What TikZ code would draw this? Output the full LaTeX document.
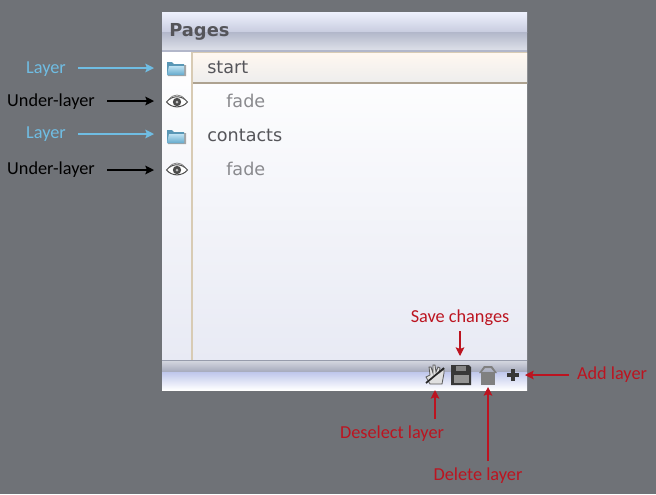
\documentclass[tikz,border=0pt]{standalone}
\usepackage{fontspec}
\setmainfont{Carlito}
\newfontfamily\uifont{DejaVu Sans}
\usetikzlibrary{arrows.meta}
\definecolor{bggray}{HTML}{6F7277}
\definecolor{layerblue}{HTML}{6FBDE3}
\definecolor{annred}{HTML}{BC1420}
\definecolor{tan1}{HTML}{D8CBB4}
\definecolor{hdrtop}{HTML}{EEF1FD}
\definecolor{hdrmida}{HTML}{C8CCDF}
\definecolor{hdrmid}{HTML}{B2B7CA}
\definecolor{hdrlow}{HTML}{DFE2EA}
\definecolor{bodylow}{HTML}{E8EAF4}
\definecolor{foota}{HTML}{D2D5DE}
\definecolor{footb}{HTML}{A5A9BC}
\definecolor{footc}{HTML}{BFC7EC}
\definecolor{txtdark}{HTML}{55555A}
\definecolor{txtfade}{HTML}{8A8A8E}
\tikzset{
 x=0.75pt,y=-0.75pt,
 lab/.style={font=\fontsize{13.7}{15}\selectfont,inner sep=0pt,anchor=base},
 bluelab/.style={lab,text=layerblue},
 blacklab/.style={lab,text=black},
 redlab/.style={lab,text=annred},
 arrtip/.style={-{Stealth[length=6.5pt,width=6.5pt,inset=1.2pt]},line width=1pt},
 bluearr/.style={arrtip,draw=layerblue,fill=layerblue},
 blackarr/.style={arrtip,draw=black},
 redarr/.style={arrtip,draw=annred},
 rowmain/.style={font=\uifont\fontsize{13.2}{15}\selectfont,text=txtdark,inner sep=0pt,anchor=base west},
 rowfade/.style={font=\uifont\fontsize{13.2}{15}\selectfont,text=txtfade,inner sep=0pt,anchor=base west},
}
\newcommand{\folderic}[2]{%
 \begin{scope}[shift={(#1,#2)}]
  \fill[black!35] (-8,-4)--(-2,-4)--(0,-3)--(10,-3)--(10,8)--(-8,8)--cycle;
  \fill[layerblue!80!black] (-9,-6)--(-4,-6)--(-2,-4)--(8,-4)--(8,7)--(-9,7)--cycle;
  \shade[top color=layerblue!45!white,bottom color=layerblue!90!black] (-7,-2)--(8,-2)--(8,7)--(-9,7)--cycle;
 \end{scope}}
\newcommand{\eyeic}[2]{%
 \begin{scope}[shift={(#1,#2)}]
  \draw[line width=.75pt,draw=black!70,fill=white] (-10.5,0) .. controls (-5,-7) and (5,-7) .. (10.5,0) .. controls (5,6.5) and (-5,6.5) .. (-10.5,0) -- cycle;
  \draw[line width=.5pt,draw=black!55] (-8,-2.5) .. controls (-4,-8.5) and (4,-8.5) .. (8,-2.5);
  \fill[black!70] (0,0) circle (4.2);
  \fill[black!25] (0,0) circle (1.5);
 \end{scope}}
\begin{document}
\begin{tikzpicture}
\useasboundingbox (0,0) rectangle (656,494);
\fill[bggray] (0,0) rectangle (656,494);
% panel
\fill[white] (162,12) rectangle (527,390);
\shade[top color=hdrtop,bottom color=hdrmida] (162,12) rectangle (527,32);
\shade[top color=hdrmid,bottom color=hdrlow] (162,32) rectangle (527,51);
\draw[draw=hdrmid,line width=.8pt] (162,51) -- (527,51);
\shade[top color=white,bottom color=bodylow] (162,52) rectangle (527,360);
\draw[tan1,line width=1pt] (192,52) -- (192,360);
\shade[top color=white!94!orange,bottom color=black!7] (193,53) rectangle (527,83);
\draw[draw=tan1,line width=1pt] (193,52.5) -- (527,52.5);
\draw[draw=tan1!80!black,line width=1pt] (193,83) -- (527,83);
% footer
\shade[top color=foota,bottom color=footb] (162,361) rectangle (527,372);
\shade[top color=footc,bottom color=white] (162,372) rectangle (527,390);
\draw[draw=hdrmid!85!black,line width=.8pt] (162,360.5) -- (527,360.5);
% header text
\node[font=\uifont\bfseries\fontsize{13.4}{15}\selectfont,text=txtdark,inner sep=0pt,anchor=base west] (pagestitle) at (169,36) {Pages};
% rows
\node[rowmain] (rstart) at (207,73) {start};
\node[rowfade] (rfadea) at (226,107) {fade};
\node[rowmain] (rcontacts) at (207,141) {contacts};
\node[rowfade] (rfadeb) at (226,175) {fade};
% icons
\folderic{176}{68}
\eyeic{177}{102}
\folderic{176}{136}
\eyeic{177}{170}
\coordinate (folderA) at (154,68);
\coordinate (eyeA) at (154,101);
\coordinate (folderB) at (154,134);
\coordinate (eyeB) at (154,170);
% left labels
\node[bluelab] (layerA) at (46,73) {Layer};
\node[blacklab] (underA) at (51,106) {Under-layer};
\node[bluelab] (layerB) at (46,138) {Layer};
\node[blacklab] (underB) at (51,174) {Under-layer};
\coordinate (la) at (78,68);
\coordinate (ua) at (107,101);
\coordinate (lb) at (78,134);
\coordinate (ub) at (107,170);
\draw[bluearr] (la) -- (folderA);
\draw[blackarr] (ua) -- (eyeA);
\draw[bluearr] (lb) -- (folderB);
\draw[blackarr] (ub) -- (eyeB);
% toolbar icons
\begin{scope}[shift={(435,375)}]
 \fill[black!12,draw=black!65,line width=.6pt] (-9,2) -- (-5,0) -- (-6,-8) -- (-4,-8) -- (-2,-2) -- (-2,-10) -- (0,-10) -- (1,-3) -- (3,-8) -- (5,-7) -- (4,-2) -- (9,-6) -- (9,-2) -- (7,9) -- (-5,9) -- cycle;
 \draw[black!85,line width=1.3pt] (-9,8) -- (9,-7);
\end{scope}
\begin{scope}[shift={(461,375)}]
 \fill[black!78] (-10,-10) -- (8,-10) -- (10,-8) -- (10,10) -- (-10,10) -- cycle;
 \fill[black!42] (-7,0) rectangle (8,8);
 \fill[black!48] (-5,-9) rectangle (5,-4);
\end{scope}
\begin{scope}[shift={(488,375)}]
 \fill[black!50] (-7,-3) -- (7,-3) -- (7,10) -- (-7,10) -- cycle;
 \fill[black!50] (-9,-2) -- (-4,-9) -- (4,-9) -- (9,-2) -- (7,-2) -- (3,-7) -- (-3,-7) -- (-7,-2) -- cycle;
\end{scope}
\fill[black!78] (511,369) rectangle (515,381);
\fill[black!78] (507,373) rectangle (519,377);
\coordinate (deselIc) at (435,390);
\coordinate (saveIc) at (460,356);
\coordinate (delIc) at (488,387);
\coordinate (addIc) at (525,375);
% red labels
\node[redlab] (save) at (460,322) {Save changes};
\node[redlab] (add) at (612,379) {Add layer};
\node[redlab] (desel) at (392,438) {Deselect layer};
\node[redlab] (del) at (478,480) {Delete layer};
\coordinate (s1) at (460,331);
\coordinate (a1) at (569,375);
\coordinate (d1) at (435,419);
\coordinate (e1) at (488,461);
\draw[redarr] (s1) -- (saveIc);
\draw[redarr] (a1) -- (addIc);
\draw[redarr] (d1) -- (deselIc);
\draw[redarr] (e1) -- (delIc);
\end{tikzpicture}
\end{document}
